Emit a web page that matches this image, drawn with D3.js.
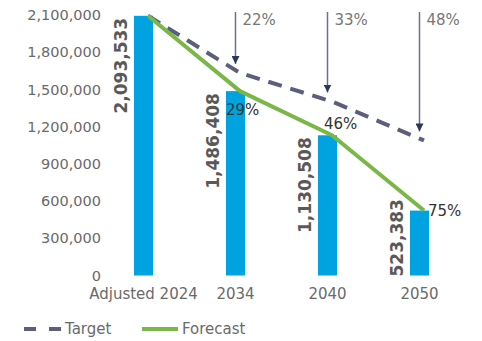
<!DOCTYPE html>
<html><head><meta charset="utf-8">
<script src="https://cdn.jsdelivr.net/npm/d3@7"></script>
<style>body{margin:0;background:#fff}svg{display:block}text{font-family:"DejaVu Sans",sans-serif}</style>
</head><body>
<script>
const categories = ["Adjusted 2024", "2034", "2040", "2050"];
const forecast = [2093533, 1486408, 1130508, 523383];
const target = [2093533, 1632956, 1402667, 1088637];
const forecastPct = [null, "29%", "46%", "75%"];
const targetPct = [null, "22%", "33%", "48%"];
const yTicks = [0, 300000, 600000, 900000, 1200000, 1500000, 1800000, 2100000];

const W = 482, H = 341;
const svg = d3.select("body").append("svg").attr("width", W).attr("height", H);

const x = d3.scaleBand().domain(categories).range([97.5, 465.5]).padding(0);
const y = d3.scaleLinear().domain([0, 2100000]).range([275.5, 15]);
const barW = 19, lineOff = 4.5;
const cx = c => x(c) + x.bandwidth() / 2;

// y axis labels
const fmt = d3.format(",");
svg.append("g").selectAll("text").data(yTicks).join("text")
  .attr("x", 101).attr("y", d => y(d)).attr("dy", "0.35em")
  .attr("text-anchor", "end").attr("font-size", 14.5).attr("fill", "#6a6a6a")
  .text(d => fmt(d));

// x axis labels
svg.append("g").selectAll("text").data(categories).join("text")
  .attr("x", d => cx(d)).attr("y", 299)
  .attr("text-anchor", "middle").attr("font-size", 15).attr("fill", "#6a6a6a")
  .text(d => d);

// bars
svg.append("g").selectAll("rect").data(forecast).join("rect")
  .attr("x", (d, i) => cx(categories[i]) - barW / 2)
  .attr("y", d => y(d)).attr("width", barW)
  .attr("height", d => y(0) - y(d)).attr("fill", "#00a3e0");

// rotated value labels
const lbl = svg.append("g").selectAll("text").data(forecast).join("text")
  .attr("font-size", 17).attr("font-weight", "bold").attr("fill", "#595959")
  .attr("text-anchor", "start").attr("dominant-baseline", "central")
  .text(d => fmt(d));
lbl.each(function(d, i) {
  const len = this.getComputedTextLength();
  let bottom = y(d) + len + 2;
  if (bottom > y(0) + 1) bottom = y(0) + 1;
  const xx = cx(categories[i]) - 23;
  d3.select(this).attr("transform", `translate(${xx},${bottom}) rotate(-90)`);
});

// lines
const line = d3.line().x((d, i) => cx(categories[i]) + lineOff).y(d => y(d));
svg.append("path").datum(target).attr("d", line).attr("fill", "none")
  .attr("stroke", "#5b5f7b").attr("stroke-width", 4).attr("stroke-dasharray", "14,9");
svg.append("path").datum(forecast).attr("d", line).attr("fill", "none")
  .attr("stroke", "#7ab648").attr("stroke-width", 4).attr("stroke-linejoin", "round");

// forecast % labels (offsets relative to bar centre / bar top)
const pctDx = [0, -9.5, -3.5, 8.5];
const pctDy = [0, 19, -12, 0];
const pctData = forecast.map((v, i) => ({v, i, t: forecastPct[i]})).filter(d => d.t);
svg.append("g").selectAll("text").data(pctData).join("text")
  .attr("x", d => cx(categories[d.i]) + pctDx[d.i])
  .attr("y", d => y(d.v) + pctDy[d.i])
  .attr("dy", "0.35em").attr("font-size", 15).attr("fill", "#333")
  .text(d => d.t);

// arrows
const defs = svg.append("defs");
defs.append("marker").attr("id", "ah").attr("viewBox", "0 0 10 10")
  .attr("refX", 10).attr("refY", 5).attr("markerWidth", 8).attr("markerHeight", 8)
  .attr("markerUnits", "userSpaceOnUse").attr("orient", "auto")
  .append("path").attr("d", "M0,0L10,5L0,10Z").attr("fill", "#2b3856");
const arrows = svg.append("g");
target.forEach((v, i) => {
  if (!targetPct[i]) return;
  const ax = cx(categories[i]);
  arrows.append("line").attr("x1", ax).attr("x2", ax).attr("y1", 12).attr("y2", y(v) - 9)
    .attr("stroke", "#6b7088").attr("stroke-width", 1.5).attr("marker-end", "url(#ah)");
  arrows.append("text").attr("x", ax + 7).attr("y", 20).attr("dy", "0.35em")
    .attr("font-size", 15).attr("fill", "#777").text(targetPct[i]);
});

// legend
const lg = svg.append("g");
lg.append("line").attr("x1", 24).attr("x2", 62).attr("y1", 329).attr("y2", 329)
  .attr("stroke", "#5b5f7b").attr("stroke-width", 4).attr("stroke-dasharray", "12,13");
lg.append("text").attr("x", 65).attr("y", 329).attr("dy", "0.35em")
  .attr("font-size", 15).attr("fill", "#6a6a6a").text("Target");
lg.append("line").attr("x1", 142).attr("x2", 178).attr("y1", 329).attr("y2", 329)
  .attr("stroke", "#7ab648").attr("stroke-width", 4);
lg.append("text").attr("x", 182).attr("y", 329).attr("dy", "0.35em")
  .attr("font-size", 15).attr("fill", "#6a6a6a").text("Forecast");
</script>
</body></html>
